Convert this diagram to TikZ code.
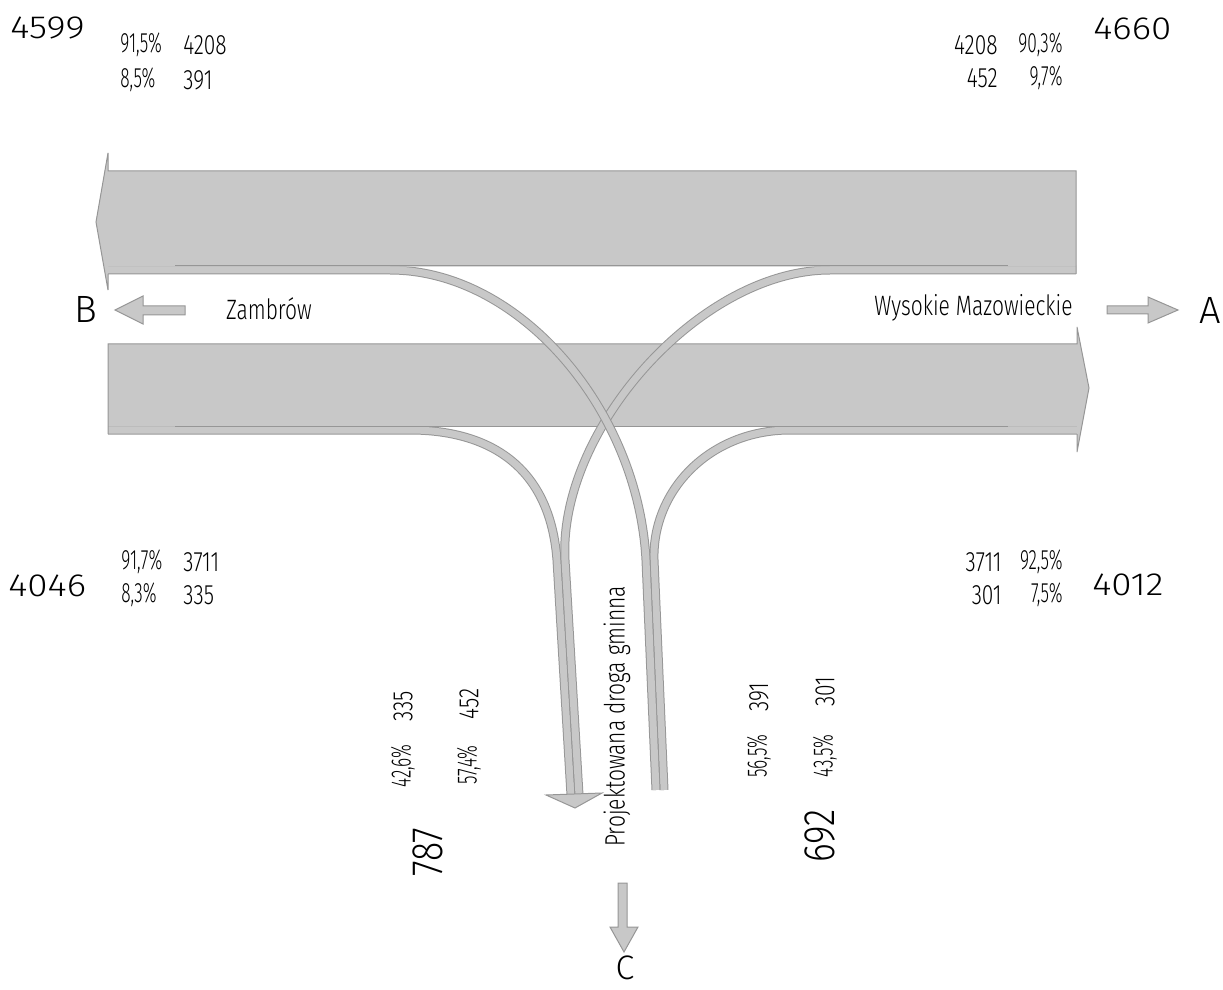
\documentclass[tikz,border=0pt]{standalone}
\usepackage{graphicx}
\usepackage{fontspec}
\usetikzlibrary{positioning}

\newfontfamily\thinfont{Fira Sans Light}
\definecolor{roadfill}{RGB}{200,200,200}
\definecolor{roadedge}{RGB}{150,150,150}
\newcommand{\nartxt}[1]{\scalebox{0.75}[1]{#1}}
\newcommand{\pctxt}[1]{\scalebox{0.62}[1]{#1}}
\newcommand{\bignum}[1]{\scalebox{1.15}[1]{#1}}
\newcommand{\bigrotnum}[1]{\scalebox{0.81}[1]{#1}}

\begin{document}
\begin{tikzpicture}[x=0.5pt, y=-0.5pt,
    flow/.style={draw=roadedge, line width=0.5pt, double=roadfill, double distance=3.5pt},
    band/.style={fill=roadfill},
    edge/.style={draw=roadedge, line width=0.5pt},
    blockarrow/.style={fill=roadfill, draw=roadedge, line width=0.5pt},
    lbl/.style={inner sep=0pt, font=\thinfont\fontsize{14}{14}\selectfont},
    big/.style={inner sep=0pt, anchor=west, font=\thinfont\fontsize{16}{16}\selectfont},
    rot/.style={lbl, rotate=90, anchor=west},
    bigrot/.style={inner sep=0pt, rotate=90, anchor=west, font=\thinfont\fontsize{22}{22}\selectfont},
    dir/.style={inner sep=0pt, font=\thinfont\fontsize{19}{19}\selectfont}]
\useasboundingbox (0,0) rectangle (1223,990);

\draw[flow] (108,430) -- (410,430) .. controls (475,430) and (549,455) .. (557,560) -- (571,795);
\draw[flow] (664,790) -- (654,560) .. controls (652,490) and (710,430) .. (790,430) -- (1077,430);

\fill[band] (108,344) -- (1077,344) -- (1077,327) -- (1089,388) -- (1077,452) -- (1077,426.6) -- (108,426.6) -- cycle;
\draw[edge] (108,434) -- (108,344) -- (1077,344) -- (1077,327) -- (1089,388) -- (1077,452) -- (1077,434);
\draw[edge] (175,426) -- (1008,426);

\draw[flow] (1076,270) -- (830,270) .. controls (700,270) and (558,430) .. (565,560) -- (579,795);
\draw[flow] (108,270) -- (390,270) .. controls (520,270) and (638,410) .. (646,560) -- (656,790);

\fill[band] (1076,171) -- (108,171) -- (108,153) -- (96,222) -- (108,290) -- (108,266.6) -- (1076,266.6) -- cycle;
\draw[edge] (1076,274) -- (1076,171) -- (108,171) -- (108,153) -- (96,222) -- (108,290) -- (108,274);
\draw[edge] (175,266) -- (1008,266);

\filldraw[blockarrow] (546,795) -- (602,793) -- (575,808) -- cycle;

% directions
\node[dir] (nB) at (86,309) {B};
\node[dir] (nA) at (1210,310) {A};
\node[dir, font=\thinfont\fontsize{17}{17}\selectfont] (nC) at (625,968) {C};
\filldraw[blockarrow] (185,306) -- (143,306) -- (143,296) -- (115,310) -- (143,324) -- (143,315) -- (185,315) -- cycle;
\filldraw[blockarrow] (1107,306) -- (1148,306) -- (1148,297) -- (1178,310) -- (1148,323) -- (1148,314) -- (1107,314) -- cycle;
\filldraw[blockarrow] (618,883) -- (627,883) -- (627,927) -- (638,927) -- (624,952) -- (610,927) -- (618,927) -- cycle;
\node[lbl] (tZam) at (269,309) {\nartxt{Zambrów}};
\node[lbl, anchor=east] (tWys) at (1073,308) {\nartxt{Wysokie Mazowieckie}};
\node[rot] (tRoad) at (617,847) {\nartxt{Projektowana droga gminna}};

% B side, top
\node[big] (sumTL) at (10,28) {\bignum{4599}};
\node[lbl, anchor=west] (pTL1) at (120,45) {\pctxt{91,5\%}};
\node[lbl, anchor=west] (vTL1) at (183,45) {\nartxt{4208}};
\node[lbl, anchor=west] (pTL2) at (120,80) {\pctxt{8,5\%}};
\node[lbl, anchor=west] (vTL2) at (183,80) {\nartxt{391}};

% A side, top
\node[lbl, anchor=east] (vTR1) at (998,45) {\nartxt{4208}};
\node[lbl, anchor=east] (pTR1) at (1063,45) {\pctxt{90,3\%}};
\node[lbl, anchor=east] (vTR2) at (998,78) {\nartxt{452}};
\node[lbl, anchor=east] (pTR2) at (1063,78) {\pctxt{9,7\%}};
\node[big] (sumTR) at (1093,29) {\bignum{4660}};

% B side, bottom
\node[big] (sumBL) at (8,586) {\bignum{4046}};
\node[lbl, anchor=west] (pBL1) at (121,562) {\pctxt{91,7\%}};
\node[lbl, anchor=west] (vBL1) at (183,562) {\nartxt{3711}};
\node[lbl, anchor=west] (pBL2) at (121,595) {\pctxt{8,3\%}};
\node[lbl, anchor=west] (vBL2) at (183,595) {\nartxt{335}};

% A side, bottom
\node[lbl, anchor=east] (vBR1) at (1002,562) {\nartxt{3711}};
\node[lbl, anchor=east] (pBR1) at (1063,562) {\pctxt{92,5\%}};
\node[lbl, anchor=east] (vBR2) at (1002,595) {\nartxt{301}};
\node[lbl, anchor=east] (pBR2) at (1063,595) {\pctxt{7,5\%}};
\node[big] (sumBR) at (1092,585) {\bignum{4012}};

% C side
\node[rot] (pC1) at (403,788) {\pctxt{42,6\%}};
\node[rot] (vC1) at (403,722) {\nartxt{335}};
\node[rot] (pC2) at (469,785) {\pctxt{57,4\%}};
\node[rot] (vC2) at (469,720) {\nartxt{452}};
\node[bigrot] (sumCin) at (428,877) {\bigrotnum{787}};
\node[rot] (pC3) at (759,778) {\pctxt{56,5\%}};
\node[rot] (vC3) at (759,712) {\nartxt{391}};
\node[rot] (pC4) at (825,778) {\pctxt{43,5\%}};
\node[rot] (vC4) at (825,707) {\nartxt{301}};
\node[bigrot] (sumCout) at (820,863) {\bigrotnum{692}};
\end{tikzpicture}
\end{document}
